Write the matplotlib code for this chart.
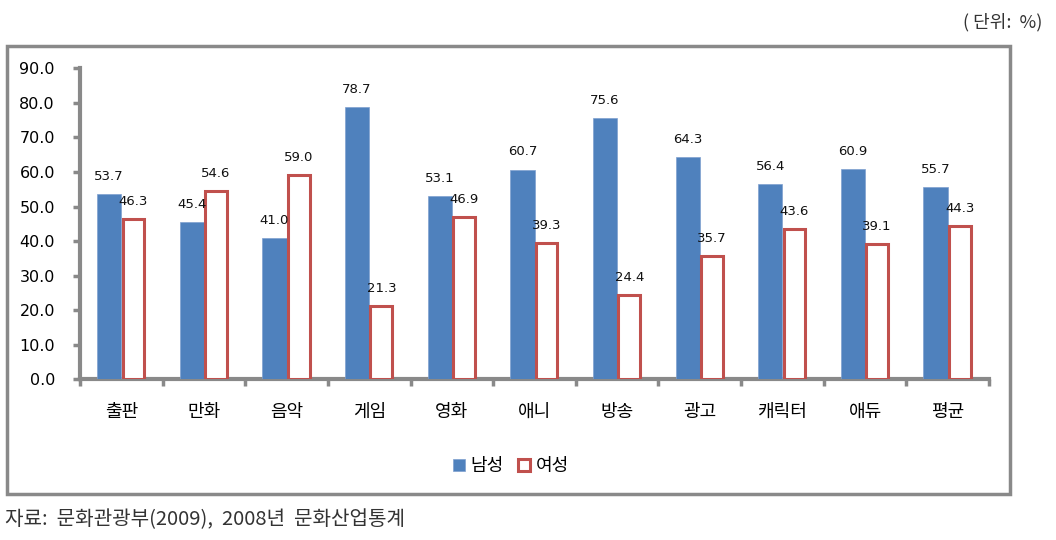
import matplotlib
matplotlib.use("Agg")
import matplotlib.pyplot as plt
from matplotlib.patches import Rectangle
import numpy as np

categories = ["출판", "만화", "음악", "게임", "영화", "애니", "방송", "광고", "캐릭터", "애듀", "평균"]
male = [53.7, 45.4, 41.0, 78.7, 53.1, 60.7, 75.6, 64.3, 56.4, 60.9, 55.7]
female = [46.3, 54.6, 59.0, 21.3, 46.9, 39.3, 24.4, 35.7, 43.6, 39.1, 44.3]
series_names = ["남성", "여성"]
yticks = [0, 10, 20, 30, 40, 50, 60, 70, 80, 90]

KR = ["Noto Sans CJK KR", "DejaVu Sans"]
NUM = ["DejaVu Sans"]
BLUE = "#4F81BD"
RED = "#C0504D"
GRAY = "#898989"

W, H = 1056, 540
fig = plt.figure(figsize=(W / 100, H / 100), dpi=100)

# outer chart border
fig.patches.append(Rectangle((7 / W, 1 - 494 / H), (1010 - 7) / W, (494 - 46) / H,
                             transform=fig.transFigure, fill=False, edgecolor=GRAY,
                             linewidth=2.5, zorder=0))

ax = fig.add_axes([80 / W, 1 - 379.3 / H, (989 - 80) / W, (379.3 - 68.3) / H])
x = np.arange(len(categories))
bw = 0.293
ax.bar(x - bw / 2, male, width=bw, color=BLUE, edgecolor="#7FA0CF", linewidth=0.5,
       label=series_names[0], zorder=3)
ax.bar(x + bw / 2, female, width=bw - 0.03, color="white", edgecolor=RED, linewidth=2.2,
       label=series_names[1], zorder=3)

for xi, v in zip(x, male):
    ax.annotate(f"{v:.1f}", (xi - bw / 2, v), xytext=(0, 8), textcoords="offset points",
                ha="center", va="bottom", fontsize=9.5, family=NUM, color="#111111")
for xi, v in zip(x, female):
    ax.annotate(f"{v:.1f}", (xi + bw / 2, v), xytext=(0, 8), textcoords="offset points",
                ha="center", va="bottom", fontsize=9.5, family=NUM, color="#111111")

ax.set_xlim(-0.5, len(categories) - 0.5)
ax.set_ylim(0, 90)
ax.set_yticks(yticks)
ax.set_yticklabels([f"{t:.1f}" for t in yticks], family=NUM, fontsize=11.5)
ax.set_xticks(x)
ax.set_xticklabels(categories, family=KR, fontsize=13)
ax.set_xticks(np.arange(len(categories) + 1) - 0.5, minor=True)
ax.tick_params(axis="x", which="major", length=0, pad=17)
ax.tick_params(axis="x", which="minor", length=5, width=2.5, color=GRAY, direction="out")
ax.tick_params(axis="y", length=5, width=2.5, color=GRAY, direction="out", pad=13)
for s in ["top", "right"]:
    ax.spines[s].set_visible(False)
for s in ["left", "bottom"]:
    ax.spines[s].set_color(GRAY)
    ax.spines[s].set_linewidth(3)

leg = ax.legend(loc="center", bbox_to_anchor=(511 / W, 1 - 466 / H), bbox_transform=fig.transFigure,
                ncol=2, frameon=False, prop={"family": KR, "size": 13},
                handlelength=0.65, handleheight=0.65, handletextpad=0.3, columnspacing=0.8)

fig.text(1042 / W, 1 - 22 / H, "( 단위:  %)", ha="right", va="center", family=KR,
         fontsize=13, color="#333333")
fig.text(5 / W, 1 - 520 / H, "자료:  문화관광부(2009),  2008년  문화산업통계", ha="left", va="center",
         family=KR, fontsize=14.5, color="#333333")

fig.savefig("out.png", dpi=100)
